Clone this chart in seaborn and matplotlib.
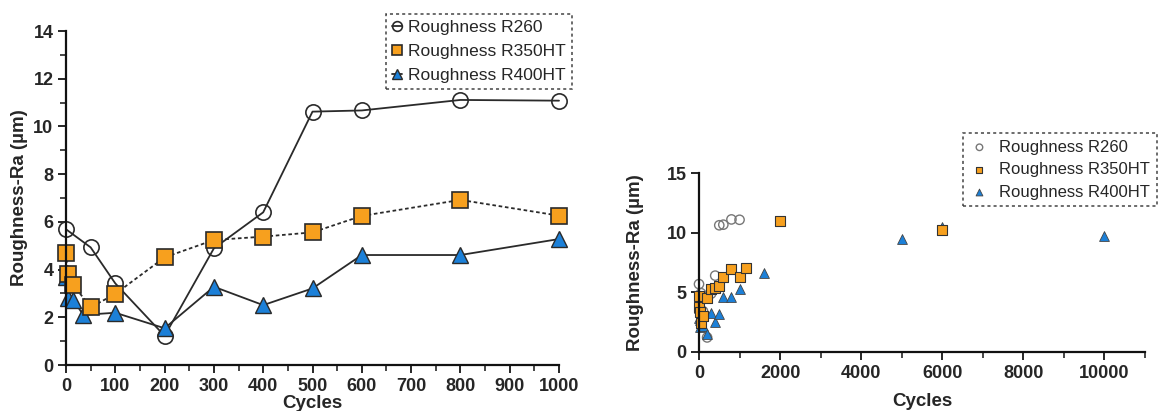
import numpy as np
import pandas as pd
import matplotlib
matplotlib.use("Agg")
import matplotlib.pyplot as plt
from matplotlib.ticker import MultipleLocator
import seaborn as sns

# ---- data ----
cycles_r260 = [0, 50, 100, 200, 300, 400, 500, 600, 800, 1000]
ra_r260 = [5.69, 4.93, 3.42, 1.22, 4.89, 6.40, 10.62, 10.67, 11.11, 11.08]

cycles_r350 = [0, 5, 15, 50, 100, 200, 300, 400, 500, 600, 800, 1000, 1150, 2000, 6000]
ra_r350 = [4.71, 3.81, 3.35, 2.42, 2.98, 4.51, 5.24, 5.38, 5.56, 6.25, 6.92, 6.26, 7.08, 10.97, 10.2]

cycles_r400 = [0, 5, 15, 35, 100, 200, 300, 400, 500, 600, 800, 1000, 1600, 5000, 6000, 10000]
ra_r400 = [3.70, 2.82, 2.72, 2.10, 2.19, 1.54, 3.28, 2.51, 3.21, 4.61, 4.61, 5.28, 6.58, 9.47, 10.47, 9.69]

labels = ["Roughness R260", "Roughness R350HT", "Roughness R400HT"]
left_xticks = list(range(0, 1001, 100))
right_xticks = [0, 2000, 4000, 6000, 8000, 10000]

sns.set_style("ticks")
plt.rcParams['font.family'] = ['Liberation Sans', 'DejaVu Sans']

orange = "#F7A01E"
blue = "#1C80D8"
edge = "#2a2a2a"

W, H = 1159, 411
fig = plt.figure(figsize=(W / 100, H / 100), dpi=100)

def frac(x0, x1, ytop, ybot):
    return [x0 / W, 1 - ybot / H, (x1 - x0) / W, (ybot - ytop) / H]

axL = fig.add_axes(frac(66, 559, 31, 365))
axR = fig.add_axes(frac(699, 1145, 173, 352))

def df(c, r, lim=None):
    d = pd.DataFrame({"Cycles": c, "Ra": r})
    if lim is not None:
        d = d[d["Cycles"] <= lim]
    return d

d260L = df(cycles_r260, ra_r260, 1000)
d350L = df(cycles_r350, ra_r350, 1000)
d400L = df(cycles_r400, ra_r400, 1000)

# left panel: lines with markers
sns.lineplot(data=d260L, x="Cycles", y="Ra", ax=axL, sort=False, color=edge, lw=1.3,
             marker="o", markersize=11, markerfacecolor="none", markeredgecolor=edge,
             markeredgewidth=1.2, label=labels[0], zorder=3)
sns.lineplot(data=d400L, x="Cycles", y="Ra", ax=axL, sort=False, color=edge, lw=1.3,
             marker="^", markersize=11, markerfacecolor=blue, markeredgecolor=edge,
             markeredgewidth=1.0, label=labels[2], zorder=4)
sns.lineplot(data=d350L, x="Cycles", y="Ra", ax=axL, sort=False, color=edge, lw=1.3,
             linestyle=(0, (2, 1.5)),
             marker="s", markersize=11, markerfacecolor=orange, markeredgecolor=edge,
             markeredgewidth=1.2, label=labels[1], zorder=5)

axL.set_xlim(0, 1000)
axL.set_ylim(0, 14)
axL.set_xticks(left_xticks)
axL.xaxis.set_minor_locator(MultipleLocator(50))
axL.yaxis.set_major_locator(MultipleLocator(2))
axL.yaxis.set_minor_locator(MultipleLocator(1))

# right panel: scatter
d260R = df(cycles_r260, ra_r260)
d350R = df(cycles_r350, ra_r350)
d400R = df(cycles_r400, ra_r400)
sns.scatterplot(data=d260R, x="Cycles", y="Ra", ax=axR, marker="o", s=45,
                facecolor="none", edgecolor="#777777", linewidth=1.0, label=labels[0], zorder=3)
sns.scatterplot(data=d400R, x="Cycles", y="Ra", ax=axR, marker="^", s=50,
                color=blue, edgecolor="#444444", linewidth=0.6, label=labels[2], zorder=4)
sns.scatterplot(data=d350R, x="Cycles", y="Ra", ax=axR, marker="s", s=50,
                color=orange, edgecolor="#333333", linewidth=0.8, label=labels[1], zorder=5)
axR.set_xlim(0, 11000)
axR.set_ylim(0, 15)
axR.set_xticks(right_xticks)
axR.xaxis.set_minor_locator(MultipleLocator(1000))
axR.yaxis.set_major_locator(MultipleLocator(5))

for ax, xpad, ypad in ((axL, 0, 4), (axR, 8, 16)):
    sns.despine(ax=ax)
    for s in ("left", "bottom"):
        ax.spines[s].set_linewidth(1.6)
        ax.spines[s].set_color("#111111")
    ax.tick_params(which="major", length=6, width=1.4, direction="out", labelsize=13, pad=3)
    ax.tick_params(which="minor", length=4, width=1.2, direction="out")
    for t in ax.get_xticklabels() + ax.get_yticklabels():
        t.set_fontweight("bold")
    ax.set_xlabel("Cycles", fontsize=13.5, fontweight="bold", labelpad=xpad)
    ax.set_ylabel("Roughness-Ra (µm)", fontsize=13.5, fontweight="bold", labelpad=ypad)
    ax.grid(False)
    for sp in ax.spines.values():
        sp.set_zorder(10)

for line in axL.lines:
    line.set_clip_on(False)
for coll in axR.collections:
    coll.set_clip_on(False)

# legends
hL, lL = axL.get_legend_handles_labels()
order = [lL.index(l) for l in labels]
legL = axL.legend([hL[i] for i in order], [lL[i] for i in order],
                  loc="upper right", bbox_to_anchor=(572 / W, 1 - 14 / H),
                  bbox_transform=fig.transFigure, borderaxespad=0, fontsize=12.5,
                  handlelength=0.6, handletextpad=0.35, labelspacing=0.5,
                  borderpad=0.35, fancybox=False, framealpha=1)
fr = legL.get_frame()
fr.set_linestyle((0, (2, 2)))
fr.set_edgecolor("#444444")
fr.set_linewidth(1.1)
for h in legL.legend_handles:
    h.set_markersize(7)

hR, lR = axR.get_legend_handles_labels()
order = [lR.index(l) for l in labels]
legR = axR.legend([hR[i] for i in order], [lR[i] for i in order],
                  loc="upper right", bbox_to_anchor=(1157 / W, 1 - 133 / H),
                  bbox_transform=fig.transFigure, borderaxespad=0, fontsize=12,
                  handlelength=1.2, handletextpad=0.6, labelspacing=0.45,
                  borderpad=0.4, fancybox=False, framealpha=1, markerscale=0.7)
fr = legR.get_frame()
fr.set_linestyle((0, (2, 2)))
fr.set_edgecolor("#444444")
fr.set_linewidth(1.1)

fig.savefig("out.png", dpi=100)
